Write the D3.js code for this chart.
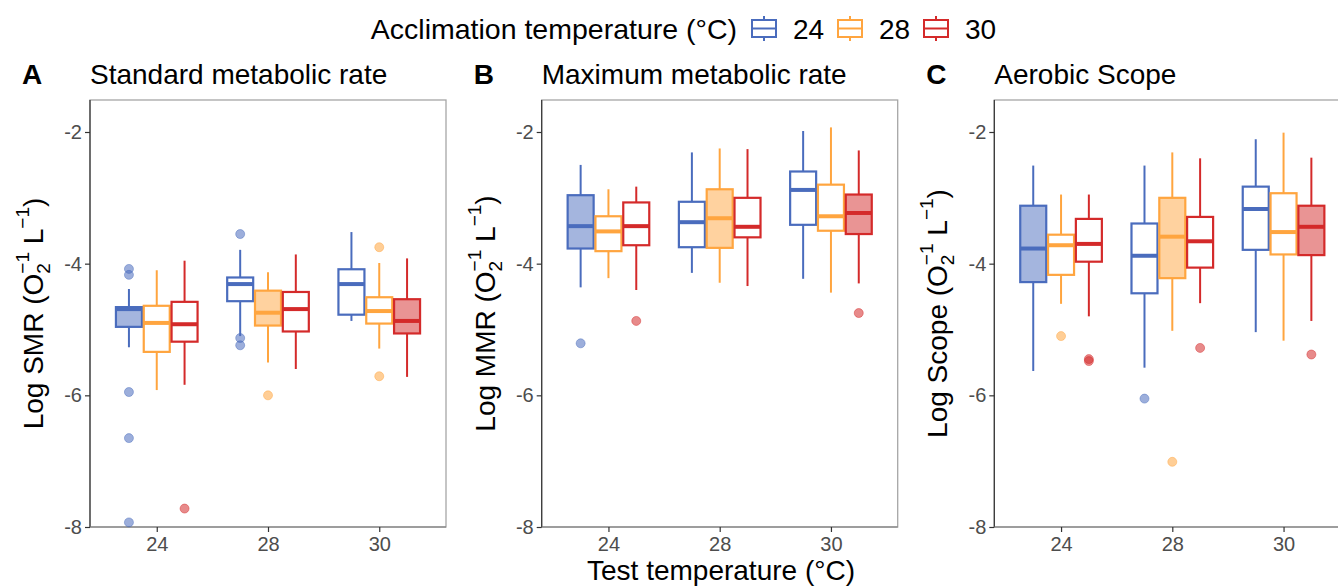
<!DOCTYPE html>
<html>
<head>
<meta charset="utf-8">
<script src="https://cdn.jsdelivr.net/npm/d3@7"></script>
<style>
  body { margin: 0; background: #fff; }
  text { font-family: "Liberation Sans", Arial, Helvetica, sans-serif; }
</style>
</head>
<body>
<div id="chart-area"></div>
<script>
// categories
const testTemps = ["24", "28", "30"];
const acclimTemps = ["24", "28", "30"];
const yTicks = [-2, -4, -6, -8];

// box stats: [test temp, acclimation temp, lower whisker, q1, median, q3, upper whisker]
const smrBoxes = [
  ["24", "24", -5.27, -4.96, -4.69, -4.66, -4.385],
  ["24", "28", -5.92, -5.34, -4.90, -4.64, -4.10],
  ["24", "30", -5.84, -5.185, -4.92, -4.58, -3.955],
  ["28", "24", -5.10, -4.57, -4.31, -4.21, -3.79],
  ["28", "28", -5.50, -4.94, -4.745, -4.41, -4.13],
  ["28", "30", -5.60, -5.03, -4.69, -4.43, -3.86],
  ["30", "24", -4.87, -4.775, -4.31, -4.085, -3.52],
  ["30", "28", -5.29, -4.91, -4.72, -4.51, -3.99],
  ["30", "30", -5.72, -5.06, -4.87, -4.54, -3.92]
];
const smrOutliers = [
  ["24", "24", -4.08], ["24", "24", -4.17], ["24", "24", -5.95], ["24", "24", -6.65],
  ["24", "24", -7.93], ["24", "30", -7.72], ["28", "24", -3.55], ["28", "24", -5.13],
  ["28", "24", -5.24], ["28", "28", -6.00], ["30", "28", -3.75], ["30", "28", -5.71]
];

const mmrBoxes = [
  ["24", "24", -4.36, -3.77, -3.43, -2.96, -2.50],
  ["24", "28", -4.22, -3.81, -3.51, -3.28, -2.87],
  ["24", "30", -4.40, -3.72, -3.43, -3.07, -2.83],
  ["28", "24", -4.14, -3.75, -3.37, -3.06, -2.31],
  ["28", "28", -4.29, -3.76, -3.31, -2.87, -2.25],
  ["28", "30", -4.34, -3.60, -3.44, -3.00, -2.26],
  ["30", "24", -4.23, -3.41, -2.88, -2.60, -1.985],
  ["30", "28", -4.44, -3.50, -3.28, -2.80, -1.93],
  ["30", "30", -4.30, -3.55, -3.23, -2.95, -2.28]
];
const mmrOutliers = [["24", "24", -5.21], ["24", "30", -4.87], ["30", "30", -4.75]];

const scopeBoxes = [
  ["24", "24", -5.63, -4.28, -3.77, -3.12, -2.51],
  ["24", "28", -4.61, -4.17, -3.72, -3.56, -2.95],
  ["24", "30", -4.80, -3.97, -3.70, -3.32, -2.95],
  ["28", "24", -5.58, -4.45, -3.88, -3.39, -2.51],
  ["28", "28", -5.02, -4.22, -3.59, -3.00, -2.31],
  ["28", "30", -4.60, -4.06, -3.66, -3.29, -2.40],
  ["30", "24", -5.04, -3.79, -3.17, -2.83, -2.11],
  ["30", "28", -5.17, -3.86, -3.52, -2.93, -2.01],
  ["30", "30", -4.87, -3.87, -3.44, -3.12, -2.39]
];
const scopeOutliers = [
  ["24", "28", -5.10], ["24", "30", -5.45], ["24", "30", -5.48], ["28", "24", -6.05],
  ["28", "28", -7.01], ["28", "30", -5.28], ["30", "30", -5.38]
];

const panels = [
  {letter: "A", title: "Standard metabolic rate", ylab: "SMR", boxes: smrBoxes, outliers: smrOutliers, left: 90},
  {letter: "B", title: "Maximum metabolic rate", ylab: "MMR", boxes: mmrBoxes, outliers: mmrOutliers, left: 541.7},
  {letter: "C", title: "Aerobic Scope", ylab: "Scope", boxes: scopeBoxes, outliers: scopeOutliers, left: 994.3}
];

const W = 1338, H = 586;
const plotTop = 100, pw = 356, ph = 427;

const colour = d3.scaleOrdinal()
  .domain(acclimTemps)
  .range(["#4a6cbd", "#ffa53f", "#d42a2a"]);

const svg = d3.select("#chart-area").append("svg")
  .attr("width", W)
  .attr("height", H);

const y = d3.scaleLinear()
  .domain([-8, -1.514])
  .range([plotTop + ph, plotTop]);

const x = d3.scalePoint()
  .domain(testTemps)
  .range([0, pw])
  .padding(0.6);

const dodge = d3.scalePoint()
  .domain(acclimTemps)
  .range([-x.step() * 0.25, x.step() * 0.25]);

const boxHalf = 13;

// rotated y title with stacked sub/superscripts
function yTitle(g, name, cx, cy) {
  let t = g.append("g").attr("transform", "translate(" + cx + "," + cy + ") rotate(-90)");
  let pieces = [
    {txt: "Log " + name + " (O", size: 28},
    {stack: true, sup: "\u22121", sub: "2"},
    {txt: "\u00a0L", size: 28},
    {stack: true, sup: "\u22121"},
    {txt: ")", size: 28}
  ];
  let xpos = 0;
  pieces.forEach(p => {
    if (p.stack) {
      let s1 = t.append("text").attr("x", xpos).attr("y", -14)
        .attr("font-size", 19).text(p.sup);
      let w = s1.node().getComputedTextLength();
      if (p.sub) {
        let s2 = t.append("text").attr("x", xpos).attr("y", 7)
          .attr("font-size", 19).text(p.sub);
        w = Math.max(w, s2.node().getComputedTextLength());
      }
      xpos += w;
    } else {
      let s = t.append("text").attr("x", xpos).attr("y", 0)
        .attr("font-size", p.size).text(p.txt);
      xpos += s.node().getComputedTextLength();
    }
  });
  t.selectAll("text").attr("transform", "translate(" + (-xpos / 2) + ",0)").attr("fill", "#000");
}

panels.forEach(p => {
  let g = svg.append("g").attr("transform", "translate(" + p.left + ",0)");

  // panel letter and title
  g.append("text").attr("x", -68).attr("y", 84)
    .attr("font-size", 28).attr("font-weight", "bold").text(p.letter);
  g.append("text").attr("x", 0).attr("y", 84)
    .attr("font-size", 28).text(p.title);

  // panel border
  g.append("rect").attr("x", 0).attr("y", plotTop).attr("width", pw).attr("height", ph)
    .attr("fill", "none").attr("stroke", "#a6a6a6").attr("stroke-width", 1.3);
  g.append("line").attr("x1", 0).attr("x2", 0).attr("y1", plotTop).attr("y2", plotTop + ph)
    .attr("stroke", "#333").attr("stroke-width", 1.2);
  g.append("line").attr("x1", 0).attr("x2", pw).attr("y1", plotTop + ph).attr("y2", plotTop + ph)
    .attr("stroke", "#777").attr("stroke-width", 1.2);

  // axes
  let yAxis = d3.axisLeft(y).tickValues(yTicks).tickSize(5).tickPadding(3)
    .tickFormat(d => String(d));
  let ya = g.append("g").attr("class", "y-axis axis").call(yAxis);
  ya.select(".domain").remove();
  ya.selectAll("line").attr("stroke", "#333").attr("stroke-width", 1.2);
  ya.selectAll("text").attr("font-size", 20).attr("fill", "#4d4d4d")
    .attr("font-family", "Liberation Sans, Arial, sans-serif");

  let xAxis = d3.axisBottom(x).tickSize(5).tickPadding(5);
  let xa = g.append("g").attr("class", "x-axis axis")
    .attr("transform", "translate(0," + (plotTop + ph) + ")").call(xAxis);
  xa.select(".domain").remove();
  xa.selectAll("line").attr("stroke", "#333").attr("stroke-width", 1.2);
  xa.selectAll("text").attr("font-size", 20).attr("fill", "#4d4d4d")
    .attr("font-family", "Liberation Sans, Arial, sans-serif");

  yTitle(g, p.ylab, -47, plotTop + ph / 2);

  // boxes
  let bx = d => x(d[0]) + dodge(d[1]);
  let box = g.selectAll(".box").data(p.boxes).enter().append("g").attr("class", "box");

  box.append("line")
    .attr("x1", bx).attr("x2", bx)
    .attr("y1", d => y(d[6])).attr("y2", d => y(d[5]))
    .attr("stroke", d => colour(d[1])).attr("stroke-width", 2);
  box.append("line")
    .attr("x1", bx).attr("x2", bx)
    .attr("y1", d => y(d[3])).attr("y2", d => y(d[2]))
    .attr("stroke", d => colour(d[1])).attr("stroke-width", 2);
  box.append("rect")
    .attr("x", d => bx(d) - boxHalf)
    .attr("width", boxHalf * 2)
    .attr("y", d => y(d[5]))
    .attr("height", d => y(d[3]) - y(d[5]))
    .attr("fill", d => d[0] === d[1] ? colour(d[1]) : "#fff")
    .attr("fill-opacity", d => d[0] === d[1] ? 0.5 : 1)
    .attr("stroke", d => colour(d[1])).attr("stroke-width", 2.2);
  box.append("line")
    .attr("x1", d => bx(d) - boxHalf).attr("x2", d => bx(d) + boxHalf)
    .attr("y1", d => y(d[4])).attr("y2", d => y(d[4]))
    .attr("stroke", d => colour(d[1])).attr("stroke-width", 4);

  g.selectAll(".outlier").data(p.outliers).enter().append("circle")
    .attr("class", "outlier")
    .attr("cx", d => x(d[0]) + dodge(d[1]))
    .attr("cy", d => y(d[2]))
    .attr("r", 4.5)
    .attr("fill", d => colour(d[1])).attr("fill-opacity", 0.55)
    .attr("stroke", d => colour(d[1])).attr("stroke-opacity", 0.45).attr("stroke-width", 1);
});

// x axis title
svg.append("text").attr("x", 721).attr("y", 580)
  .attr("text-anchor", "middle").attr("font-size", 28).text("Test temperature (\u00b0C)");

// legend
let legend = svg.append("g");
legend.append("text").attr("x", 737).attr("y", 39)
  .attr("text-anchor", "end").attr("font-size", 28.5).text("Acclimation temperature (\u00b0C)");
let keyX = d3.scalePoint().domain(acclimTemps).range([752, 924]);
let key = legend.selectAll(".key").data(acclimTemps).enter().append("g").attr("class", "key")
  .attr("transform", d => "translate(" + keyX(d) + ",0)");
key.append("line").attr("x1", 12).attr("x2", 12).attr("y1", 16).attr("y2", 41)
  .attr("stroke", d => colour(d)).attr("stroke-width", 2);
key.append("rect").attr("x", 0).attr("y", 20).attr("width", 24).attr("height", 17)
  .attr("fill", "#fff").attr("stroke", d => colour(d)).attr("stroke-width", 2);
key.append("line").attr("x1", 0).attr("x2", 24).attr("y1", 28.5).attr("y2", 28.5)
  .attr("stroke", d => colour(d)).attr("stroke-width", 2);
key.append("text").attr("x", 41).attr("y", 39).attr("font-size", 28).text(d => d);
</script>
</body>
</html>
